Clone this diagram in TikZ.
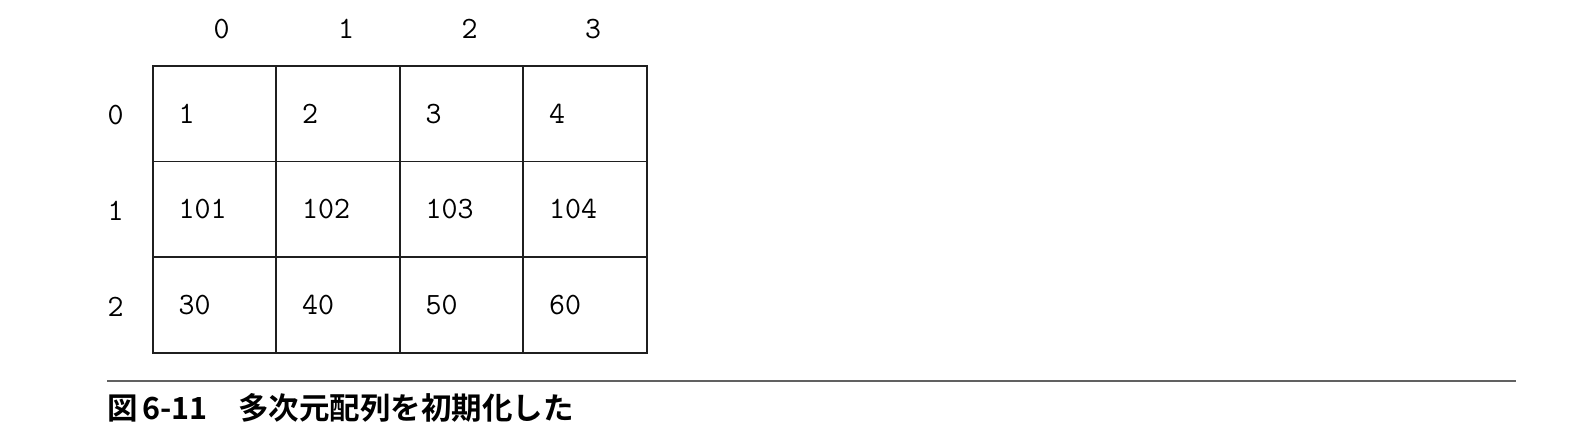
\documentclass[tikz,border=0pt]{standalone}
\usepackage{fontspec}
\newfontfamily\cjk{Noto Sans CJK JP}[BoldFont={Noto Sans CJK JP Bold}]
\begin{document}
\begin{tikzpicture}[x=1pt,y=-1pt,
  cell/.style={draw=black!88, line width=1.8pt, minimum width=123.5pt, minimum height=95.7pt,
    inner xsep=26pt, inner ysep=0pt, text width=71.5pt, align=left,
    font=\ttfamily\fontsize{31}{37}\selectfont},
  idx/.style={inner sep=0pt, font=\ttfamily\fontsize{31}{37}\selectfont},
  captionstyle/.style={inner sep=0pt, anchor=base west, font=\cjk\bfseries\fontsize{30.5}{35}\selectfont}]
\useasboundingbox (0,0) rectangle (1586,434);
% column headers
\node[idx] (h0) at (221.7,29.3) {0};
\node[idx] (h1) at (346.2,29.3) {1};
\node[idx] (h2) at (469.7,29.3) {2};
\node[idx] (h3) at (593.2,29.3) {3};
% row labels
\node[idx] (r0) at (115.7,115.5) {0};
\node[idx] (r1) at (115.7,211.2) {1};
\node[idx] (r2) at (115.7,306.9) {2};
% cells
\node[cell] (c00) at (214.45,113.65) {1};
\node[cell] (c01) at (337.95,113.65) {2};
\node[cell] (c02) at (461.45,113.65) {3};
\node[cell] (c03) at (584.95,113.65) {4};
\node[cell] (c10) at (214.45,209.35) {101};
\node[cell] (c11) at (337.95,209.35) {102};
\node[cell] (c12) at (461.45,209.35) {103};
\node[cell] (c13) at (584.95,209.35) {104};
\node[cell] (c20) at (214.45,305.05) {30};
\node[cell] (c21) at (337.95,305.05) {40};
\node[cell] (c22) at (461.45,305.05) {50};
\node[cell] (c23) at (584.95,305.05) {60};
% rule and caption
\coordinate (ruleL) at (107.3,381);
\coordinate (ruleR) at (1516,381);
\draw[line width=1.8pt, black!62] (ruleL) -- (ruleR);
\node[captionstyle] (capnum) at (107,419.5) {図\kern5pt 6-11};
\node[captionstyle] (captext) at (238,419.5) {多次元配列を初期化した};
\end{tikzpicture}
\end{document}
